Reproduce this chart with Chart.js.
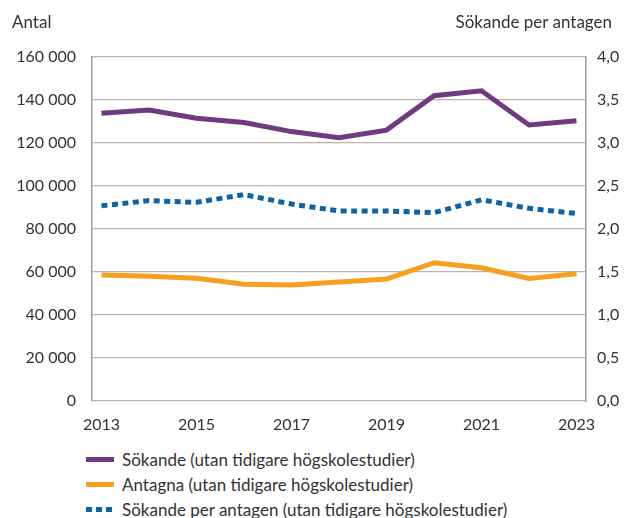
<!DOCTYPE html>
<html>
<head>
<meta charset="utf-8">
<script src="https://cdn.jsdelivr.net/npm/chart.js"></script>
<style>
  body { margin: 0; background: #fff; font-family: Lato, sans-serif; color: #333; }
  #wrap { position: relative; width: 631px; height: 518px; }
  #chartBox { position: absolute; left: 0; top: 0; width: 631px; height: 441px; }
  .axisTitle { position: absolute; top: 12px; font-size: 17px; line-height: 20px; }
  #legend { position: absolute; left: 86px; top: 447px; font-size: 17px; }
  .row { height: 25px; line-height: 24px; display: flex; align-items: center; }
  .swatch { width: 28px; height: 5px; margin-right: 8px; }
</style>
</head>
<body>
<div id="wrap">
  <div id="chartBox"><canvas id="chart"></canvas></div>
  <div class="axisTitle" style="left:12px">Antal</div>
  <div class="axisTitle" style="right:19px">Sökande per antagen</div>
  <div id="legend"></div>
</div>
<script>
// values
const years = [2013, 2014, 2015, 2016, 2017, 2018, 2019, 2020, 2021, 2022, 2023];
const sokande = [133800, 135300, 131500, 129500, 125300, 122500, 126000, 142000, 144300, 128400, 130400];
const antagna = [58600, 58000, 57100, 54300, 54000, 55300, 56700, 64300, 62000, 57000, 59200];
const perAntagen = [2.27, 2.33, 2.31, 2.40, 2.29, 2.21, 2.21, 2.19, 2.34, 2.24, 2.18];
const xTickYears = [2013, 2015, 2017, 2019, 2021, 2023];

const seriesNames = [
  'Sökande (utan tidigare högskolestudier)',
  'Antagna (utan tidigare högskolestudier)',
  'Sökande per antagen (utan tidigare högskolestudier)'
];
const colors = ['#6f3b80', '#f5a01f', '#0c64a6'];

const font = { family: 'Lato, sans-serif', size: 16 };
const textColor = '#333';

function points(values) {
  return years.map((y, i) => ({ x: y, y: values[i] }));
}

new Chart(document.getElementById('chart'), {
  type: 'line',
  data: {
    datasets: [
      { label: seriesNames[0], data: points(sokande), borderColor: colors[0], borderWidth: 5, yAxisID: 'y' },
      { label: seriesNames[1], data: points(antagna), borderColor: colors[1], borderWidth: 5, yAxisID: 'y' },
      { label: seriesNames[2], data: points(perAntagen), borderColor: colors[2], borderWidth: 5,
        borderDash: [6, 4.5], yAxisID: 'y1' }
    ]
  },
  options: {
    responsive: true,
    maintainAspectRatio: false,
    animation: false,
    elements: { point: { radius: 0 }, line: { tension: 0, borderCapStyle: 'butt' } },
    layout: { padding: { top: 57, left: 0, right: 0, bottom: 0 } },
    plugins: { legend: { display: false }, tooltip: { enabled: false } },
    scales: {
      x: {
        type: 'linear',
        min: 2012.8,
        max: 2023.2,
        afterBuildTicks: scale => { scale.ticks = xTickYears.map(v => ({ value: v })); },
        afterFit: scale => { scale.height = 40; },
        grid: { display: false, drawTicks: false },
        border: { display: false },
        ticks: { font, color: textColor, padding: 14, maxRotation: 0, autoSkip: false,
          callback: v => String(v) }
      },
      y: {
        position: 'left',
        min: 0, max: 160000,
        afterFit: scale => { scale.width = 92; },
        grid: { color: '#bab4ad', lineWidth: 1.3, drawTicks: false },
        border: { color: '#a59d95', width: 1.5 },
        ticks: { stepSize: 20000, font, color: textColor, padding: 16,
          callback: v => v === 0 ? '0' : String(v).replace(/\B(?=(\d{3})+(?!\d))/g, ' ') }
      },
      y1: {
        position: 'right',
        min: 0, max: 4,
        afterFit: scale => { scale.width = 45; },
        grid: { display: false, drawTicks: false },
        border: { color: '#a59d95', width: 1.5 },
        ticks: { stepSize: 0.5, font, color: textColor, padding: 11,
          callback: v => v.toFixed(1).replace('.', ',') }
      }
    }
  }
});

// legend under the chart
const legend = document.getElementById('legend');
seriesNames.forEach((name, i) => {
  const row = document.createElement('div');
  row.className = 'row';
  const sw = document.createElement('span');
  sw.className = 'swatch';
  if (i === 2) {
    sw.style.background = `repeating-linear-gradient(to right, ${colors[i]} 0 6px, transparent 6px 10px)`;
  } else {
    sw.style.background = colors[i];
  }
  const label = document.createElement('span');
  label.textContent = name;
  row.appendChild(sw);
  row.appendChild(label);
  legend.appendChild(row);
});
</script>
</body>
</html>
